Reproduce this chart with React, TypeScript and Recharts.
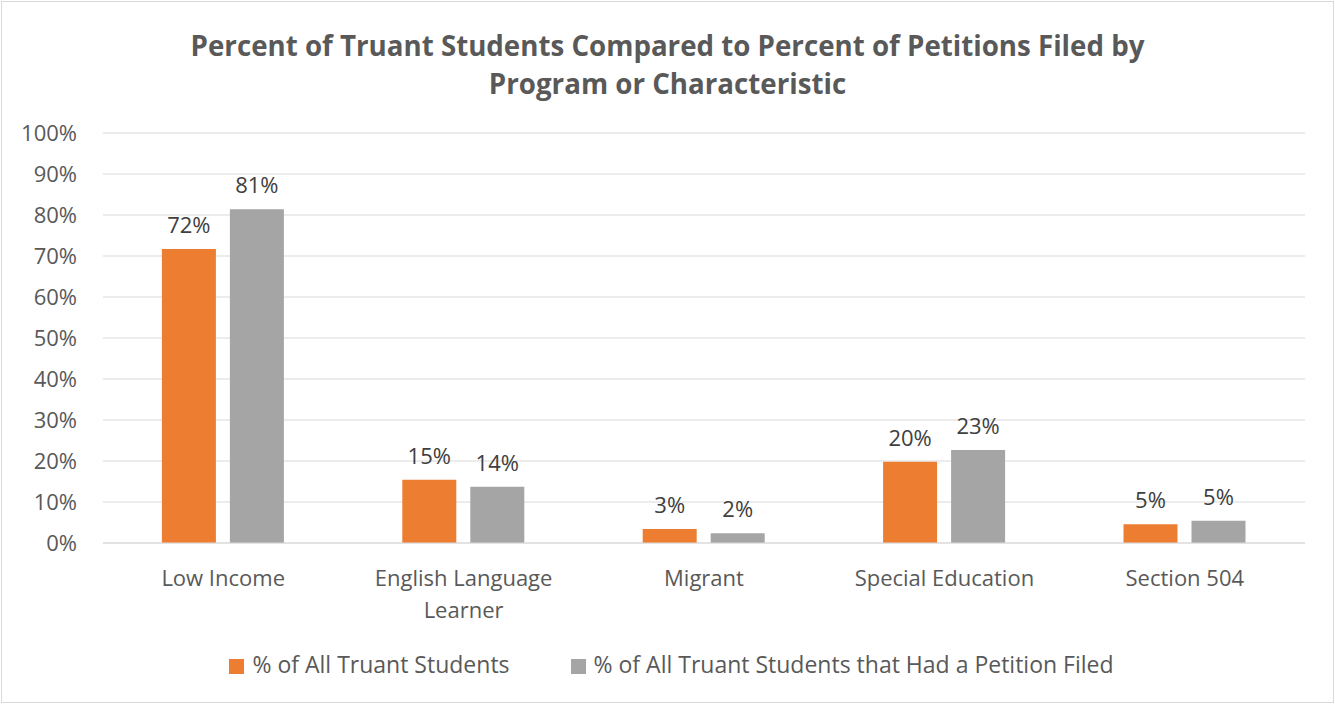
import { BarChart, Bar, XAxis, YAxis, CartesianGrid, Legend, LabelList } from 'recharts';

const categories = ['Low Income', 'English Language Learner', 'Migrant', 'Special Education', 'Section 504'];
const allTruant = [71.7, 15.4, 3.4, 19.8, 4.6];
const petitionFiled = [81.4, 13.7, 2.4, 22.7, 5.4];
const yTicks = [0, 10, 20, 30, 40, 50, 60, 70, 80, 90, 100];

const seriesNames = ['% of All Truant Students', '% of All Truant Students that Had a Petition Filed'];

const data = categories.map((name, i) => ({
  name,
  truant: allTruant[i],
  petition: petitionFiled[i],
}));

const FONT = '"Open Sans", "Noto Sans", sans-serif';

// 按字符数贪心换行
function wrapLabel(label: string, maxChars: number) {
  const lines: string[] = [];
  let cur = '';
  for (const w of label.split(' ')) {
    const next = cur ? cur + ' ' + w : w;
    if (next.length > maxChars && cur) {
      lines.push(cur);
      cur = w;
    } else {
      cur = next;
    }
  }
  if (cur) lines.push(cur);
  return lines;
}

function CategoryTick(props: any) {
  const { x, y, payload } = props;
  const lines = wrapLabel(String(payload.value), 17);
  return (
    <text x={x} y={y} textAnchor="middle" fill="#595959" fontSize={22} fontFamily={FONT}>
      {lines.map((line, i) => (
        <tspan key={i} x={x} dy={i === 0 ? 35 : 32}>
          {line}
        </tspan>
      ))}
    </text>
  );
}

const pct = (v: any) => `${Math.round(Number(v))}%`;

export default function App() {
  return (
    <div
      style={{
        position: 'fixed',
        top: 0,
        left: 0,
        width: 1335,
        height: 704,
        background: '#fff',
        fontFamily: FONT,
      }}
    >
      <div
        style={{
          position: 'absolute',
          top: 1,
          left: 1,
          width: 1331,
          height: 700,
          border: '1px solid #d9d9d9',
          pointerEvents: 'none',
        }}
      />
      <div
        style={{
          position: 'absolute',
          top: 26,
          left: 0,
          width: 1335,
          textAlign: 'center',
          color: '#595959',
          fontWeight: 700,
          fontSize: 27.7,
          lineHeight: '38px',
        }}
      >
        Percent of Truant Students Compared to Percent of Petitions Filed by
        <br />
        Program or Characteristic
      </div>
      <BarChart
        width={1335}
        height={704}
        data={data}
        margin={{ top: 133, right: 30, left: 0, bottom: 24 }}
        barCategoryGap="24.5%"
        barGap={14}
      >
        <CartesianGrid vertical={false} stroke="#d9d9d9" />
        <XAxis
          dataKey="name"
          axisLine={{ stroke: '#d9d9d9' }}
          tickLine={false}
          height={105}
          interval={0}
          tick={<CategoryTick />}
        />
        <YAxis
          domain={[0, 100]}
          ticks={yTicks}
          tickFormatter={(v) => `${v}%`}
          axisLine={false}
          tickLine={false}
          width={103}
          tickSize={0}
          tickMargin={26}
          tick={{ fill: '#595959', fontSize: 22, fontFamily: FONT }}
        />
        <Legend
          verticalAlign="bottom"
          iconType="square"
          iconSize={15}
          wrapperStyle={{ fontSize: 23, fontFamily: FONT, left: 24 }}
          formatter={(value) => (
            <span style={{ color: '#595959', marginLeft: 4, marginRight: value === seriesNames[0] ? 51 : 0 }}>
              {value}
            </span>
          )}
        />
        <Bar dataKey="truant" name={seriesNames[0]} fill="#ED7D31" isAnimationActive={false}>
          <LabelList dataKey="truant" position="top" offset={16} formatter={pct} fill="#404040" fontSize={22} fontFamily={FONT} />
        </Bar>
        <Bar dataKey="petition" name={seriesNames[1]} fill="#A5A5A5" isAnimationActive={false}>
          <LabelList dataKey="petition" position="top" offset={16} formatter={pct} fill="#404040" fontSize={22} fontFamily={FONT} />
        </Bar>
      </BarChart>
    </div>
  );
}
